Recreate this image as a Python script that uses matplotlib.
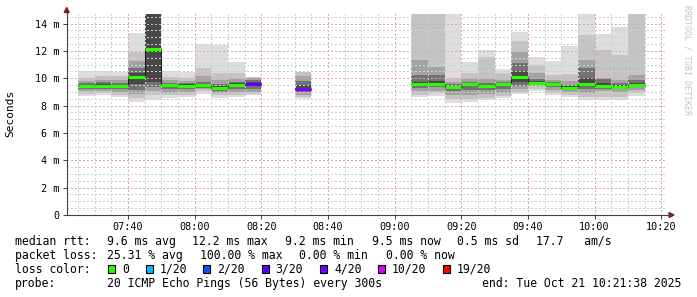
import matplotlib.pyplot as plt
import matplotlib.dates as mdates
from matplotlib.patches import Rectangle, Polygon
from matplotlib.ticker import MultipleLocator, FuncFormatter
from datetime import datetime, timedelta

plt.rcParams['font.family'] = ['DejaVu Sans Mono']

# 5 minute rounds that have data (everything else was 100% loss)
slots = ['07:25', '07:30', '07:35', '07:40', '07:45', '07:50', '07:55', '08:00',
         '08:05', '08:10', '08:15', '08:30',
         '09:05', '09:10', '09:15', '09:20', '09:25', '09:30', '09:35', '09:40',
         '09:45', '09:50', '09:55', '10:00', '10:05', '10:10']
median = [9.40, 9.40, 9.44, 10.07, 12.14, 9.49, 9.44, 9.49, 9.29, 9.53, 9.58, 9.19,
          9.58, 9.58, 9.34, 9.58, 9.41, 9.56, 10.10, 9.68, 9.58, 9.31, 9.60, 9.46,
          9.39, 9.53]
lost = [0, 0, 0, 0, 0, 0, 0, 0, 0, 0, 3, 4,
        0, 0, 0, 0, 0, 0, 0, 0, 0, 0, 0, 0, 0, 0]

# smoke bands, outer -> inner (ms)
smoke_lo = [
    [8.70, 8.85, 9.05, 9.20, 9.30],
    [8.78, 8.95, 9.10, 9.25, 9.33],
    [8.60, 8.80, 9.00, 9.18, 9.32],
    [8.29, 8.55, 8.85, 9.15, 9.55],
    [8.38, 8.75, 9.05, 9.35, 9.70],
    [8.53, 8.75, 8.95, 9.20, 9.35],
    [8.60, 8.80, 9.00, 9.20, 9.32],
    [8.88, 9.05, 9.20, 9.30, 9.40],
    [8.53, 8.75, 8.95, 9.10, 9.20],
    [8.60, 8.80, 9.00, 9.25, 9.40],
    [8.78, 8.85, 9.00, 9.20, 9.40],
    [8.46, 8.60, 8.80, 9.00, 9.10],
    [8.60, 8.80, 9.05, 9.30, 9.45],
    [8.70, 8.90, 9.10, 9.35, 9.45],
    [8.22, 8.45, 8.75, 9.05, 9.20],
    [8.29, 8.45, 8.80, 9.15, 9.40],
    [8.38, 8.55, 8.85, 9.15, 9.28],
    [8.53, 8.70, 8.95, 9.25, 9.42],
    [8.85, 9.00, 9.20, 9.45, 9.70],
    [9.10, 9.25, 9.40, 9.50, 9.58],
    [8.78, 8.95, 9.15, 9.35, 9.45],
    [8.60, 8.80, 9.00, 9.15, 9.22],
    [8.38, 8.60, 8.95, 9.20, 9.40],
    [8.38, 8.60, 9.10, 9.25, 9.35],
    [8.38, 8.60, 9.00, 9.20, 9.30],
    [8.70, 8.90, 9.15, 9.35, 9.45],
]
smoke_hi = [
    [10.55, 10.00, 9.80, 9.62, 9.50],
    [10.53, 10.15, 9.90, 9.72, 9.55],
    [10.46, 10.15, 9.85, 9.65, 9.52],
    [13.34, 11.95, 11.25, 10.75, 10.40],
    [15.00, 15.00, 15.00, 15.00, 15.00],
    [10.53, 10.10, 9.85, 9.68, 9.58],
    [10.48, 10.05, 9.80, 9.65, 9.55],
    [12.50, 10.75, 10.15, 9.75, 9.60],
    [12.44, 10.40, 9.85, 9.55, 9.40],
    [11.17, 10.40, 9.95, 9.72, 9.62],
    [10.12, 10.10, 10.02, 9.85, 9.70],
    [10.48, 10.45, 10.20, 9.80, 9.50],
    [15.00, 15.00, 11.35, 10.25, 9.75],
    [15.00, 15.00, 10.85, 10.25, 9.80],
    [15.00, 10.05, 9.75, 9.55, 9.45],
    [11.17, 10.40, 9.95, 9.70, 9.65],
    [12.07, 11.55, 9.95, 9.65, 9.52],
    [10.65, 10.35, 9.90, 9.72, 9.62],
    [13.41, 12.75, 11.95, 11.10, 10.55],
    [11.55, 10.95, 10.35, 9.95, 9.80],
    [11.27, 10.25, 9.90, 9.70, 9.65],
    [12.36, 10.30, 9.80, 9.50, 9.42],
    [15.00, 13.20, 11.35, 10.75, 10.05],
    [13.24, 12.10, 10.00, 9.95, 9.65],
    [13.73, 11.70, 9.90, 9.65, 9.50],
    [15.00, 15.00, 10.25, 9.85, 9.65],
]

loss_levels = [0, 1, 2, 3, 4, 10, 19]
loss_labels = ['0', '1/20', '2/20', '3/20', '4/20', '10/20', '19/20']
loss_colors = ['#26ff00', '#00b8ff', '#0059ff', '#5e00ff', '#7e00ff', '#dd00ff', '#ff0000']
smoke_grays = ['#dddddd', '#c3c3c3', '#a2a2a2', '#727272', '#484848']

legend_rtt = ['median rtt:', '9.6 ms avg', '12.2 ms max', '9.2 ms min', '9.5 ms now',
              '0.5 ms sd', '17.7   am/s']
legend_loss = ['packet loss:', '25.31 % avg', '100.00 % max', '0.00 % min', '0.00 % now']
probe_text = '20 ICMP Echo Pings (56 Bytes) every 300s'
end_text = 'end: Tue Oct 21 10:21:38 2025'

day = datetime(2025, 10, 21)
t_start = day.replace(hour=7, minute=21, second=38)
t_end = day.replace(hour=10, minute=21, second=38)
step = timedelta(minutes=5)


def loss_color(n):
    col = loss_colors[0]
    for lv, c in zip(loss_levels, loss_colors):
        if n >= lv:
            col = c
    return col


W, H = 697, 297
fig = plt.figure(figsize=(W / 100, H / 100), dpi=100)
ax = fig.add_axes([66.7 / W, (H - 215) / H, 600 / W, 201 / H])

starts = [datetime.strptime('2025-10-21 ' + s, '%Y-%m-%d %H:%M') for s in slots]
xs = mdates.date2num(starts)
bw = 5 / 1440

for k in range(5):
    lo = [b[k] for b in smoke_lo]
    hi = [b[k] for b in smoke_hi]
    ax.bar(xs, [h - l for h, l in zip(hi, lo)], bottom=lo, width=bw, align='edge',
           color=smoke_grays[k], linewidth=0, zorder=1)

# black step line under the coloured medians
sx, sy = [], []
for i, t in enumerate(starts):
    sx.append(t)
    sy.append(median[i])
    if i == len(starts) - 1 or starts[i + 1] != t + step:
        sx += [t + step, t + step]
        sy += [median[i], float('nan')]
ax.step(sx, sy, where='post', color='#202020', linewidth=0.8, zorder=3)
ax.hlines(median, xs, xs + bw, colors=[loss_color(n) for n in lost],
          linewidth=2.2, zorder=4)

ax.set_xlim(t_start, t_end)
ax.set_ylim(0, 14.7)
ax.xaxis.set_major_locator(mdates.MinuteLocator(byminute=[0, 20, 40]))
ax.xaxis.set_minor_locator(mdates.MinuteLocator(byminute=range(0, 60, 5)))
ax.xaxis.set_major_formatter(mdates.DateFormatter('%H:%M'))
ax.yaxis.set_major_locator(MultipleLocator(2))
ax.yaxis.set_minor_locator(MultipleLocator(0.5))
ax.yaxis.set_major_formatter(FuncFormatter(lambda v, p: '0' if v == 0 else '%d m' % v))

ax.set_axisbelow(False)
ax.grid(which='minor', color='#cfcfcf', linestyle=(0, (1, 2)), linewidth=0.75,
        antialiased=False)
ax.grid(which='major', color='#e6a4a4', linestyle=(0, (1, 2)), linewidth=0.75,
        antialiased=False)
ax.tick_params(which='major', length=3, width=0.7, color='#404040', labelsize=7.3, pad=2)
ax.tick_params(which='minor', length=0)
for s in ax.spines.values():
    s.set_visible(False)
ax.patch.set_alpha(0)

# overlay in pixel coordinates for axes arrows and legend
ov = fig.add_axes([0, 0, 1, 1])
ov.set_xlim(0, W)
ov.set_ylim(H, 0)
ov.axis('off')
ov.patch.set_alpha(0)

ov.plot([66.7, 66.7], [215, 11], color='#404040', linewidth=0.8)
ov.plot([66.7, 670], [215, 215], color='#404040', linewidth=0.8)
ov.add_patch(Polygon([(64.2, 12.5), (69.2, 12.5), (66.7, 7.5)], color='#7f1f1f'))
ov.add_patch(Polygon([(669, 212.5), (669, 217.5), (674, 215)], color='#7f1f1f'))

ov.text(10, 113, 'Seconds', rotation=90, ha='center', va='center', fontsize=8)
ov.text(686.5, 60, 'RRDTOOL / TOBI OETIKER', rotation=270, ha='center', va='center',
        fontsize=6, color='#c4c4c4')

fs = 8.3
rows = [244.7, 258.7, 272.6, 286.7]
for txt, x in zip(legend_rtt, [15, 107, 192.5, 285, 371.5, 457, 535.5]):
    ov.text(x, rows[0], txt, fontsize=fs, va='baseline')
for txt, x in zip(legend_loss, [15, 107, 199.5, 299, 385.5]):
    ov.text(x, rows[1], txt, fontsize=fs, va='baseline')
ov.text(15, rows[2], 'loss color:', fontsize=fs, va='baseline')
for lab, col, x in zip(loss_labels, loss_colors, [108, 145.5, 203.3, 261.7, 320, 378, 443]):
    ov.add_patch(Rectangle((x, 264.5), 7, 8, facecolor=col, edgecolor='black', linewidth=0.8))
    ov.text(x + 14, rows[2], lab, fontsize=fs, va='baseline')
ov.text(15, rows[3], 'probe:', fontsize=fs, va='baseline')
ov.text(107, rows[3], probe_text, fontsize=fs, va='baseline')
ov.text(681, rows[3], end_text, fontsize=fs, va='baseline', ha='right')

fig.savefig('out.png', dpi=100)
